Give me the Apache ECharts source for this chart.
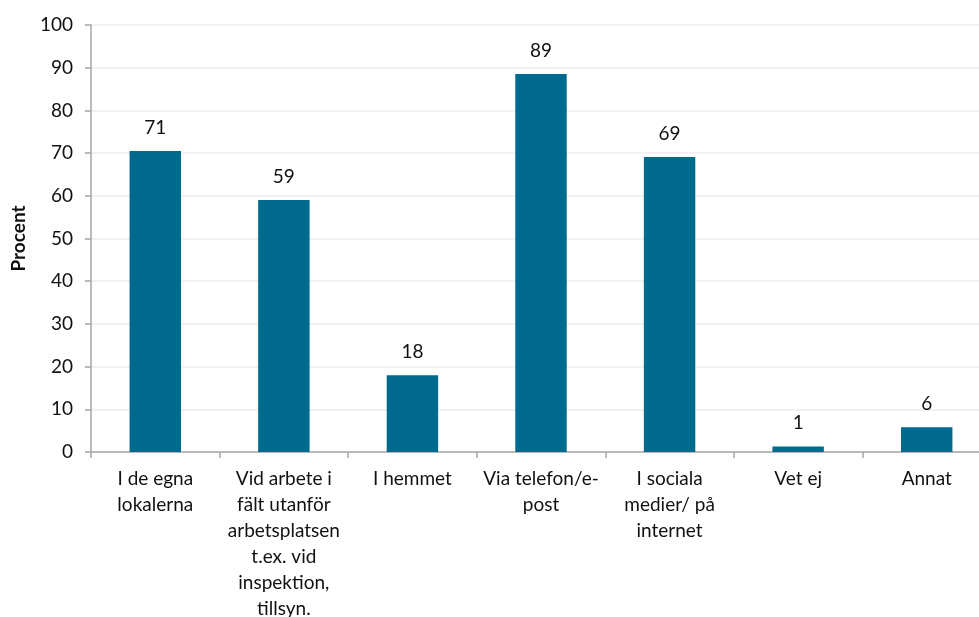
<!DOCTYPE html>
<html><head><meta charset="utf-8">
<script src="https://cdn.jsdelivr.net/npm/echarts@6/dist/echarts.min.js"></script>
<style>html,body{margin:0;padding:0;background:#fff;overflow:hidden}#c{width:979px;height:617px}</style>
</head><body><div id="c"></div>
<script>
const categories = ["I de egna\nlokalerna", "Vid arbete i\nfält utanför\narbetsplatsen\nt.ex. vid\ninspektion,\ntillsyn.", "I hemmet", "Via telefon/e-\npost", "I sociala\nmedier/ på\ninternet", "Vet ej", "Annat"];
const values = [70.5, 59.0, 18.0, 88.5, 69.1, 1.3, 5.8];
const valueLabels = ["71", "59", "18", "89", "69", "1", "6"];
const yTicks = [0, 10, 20, 30, 40, 50, 60, 70, 80, 90, 100];
const FONT = "Lato";
const chart = echarts.init(document.getElementById('c'), null, {renderer: 'canvas'});
chart.setOption({
  animation: false,
  grid: {left: 91, right: -12, top: 25, bottom: 165, containLabel: false, outerBoundsMode: 'none'},
  xAxis: {
    type: 'category', data: categories,
    axisLine: {lineStyle: {color: '#a6a6a6', width: 1.5}},
    axisTick: {show: true, length: 6, alignWithLabel: false, lineStyle: {color: '#a6a6a6', width: 1.5}},
    axisLabel: {interval: 0, color: '#111', fontFamily: FONT, fontSize: 19, lineHeight: 26, margin: 14}
  },
  yAxis: {
    type: 'value', min: yTicks[0], max: yTicks[yTicks.length - 1], interval: 10,
    name: 'Procent', nameLocation: 'middle', nameGap: 63, nameRotate: 90,
    nameTextStyle: {fontFamily: FONT, fontWeight: 'bold', fontSize: 19, color: '#111'},
    axisLine: {show: true, lineStyle: {color: '#a6a6a6', width: 1.5}},
    axisTick: {show: true, length: 6, lineStyle: {color: '#a6a6a6', width: 1.5}},
    axisLabel: {color: '#111', fontFamily: FONT, fontSize: 19, margin: 18},
    splitLine: {show: true, lineStyle: {color: '#ededed', width: 1.5}}
  },
  series: [{
    type: 'bar', data: values, barCategoryGap: '60%',
    itemStyle: {color: '#006a8e'},
    label: {show: true, position: 'top', distance: 14, color: '#111', fontFamily: FONT, fontSize: 19,
      formatter: p => valueLabels[p.dataIndex]}
  }]
});
</script></body></html>
